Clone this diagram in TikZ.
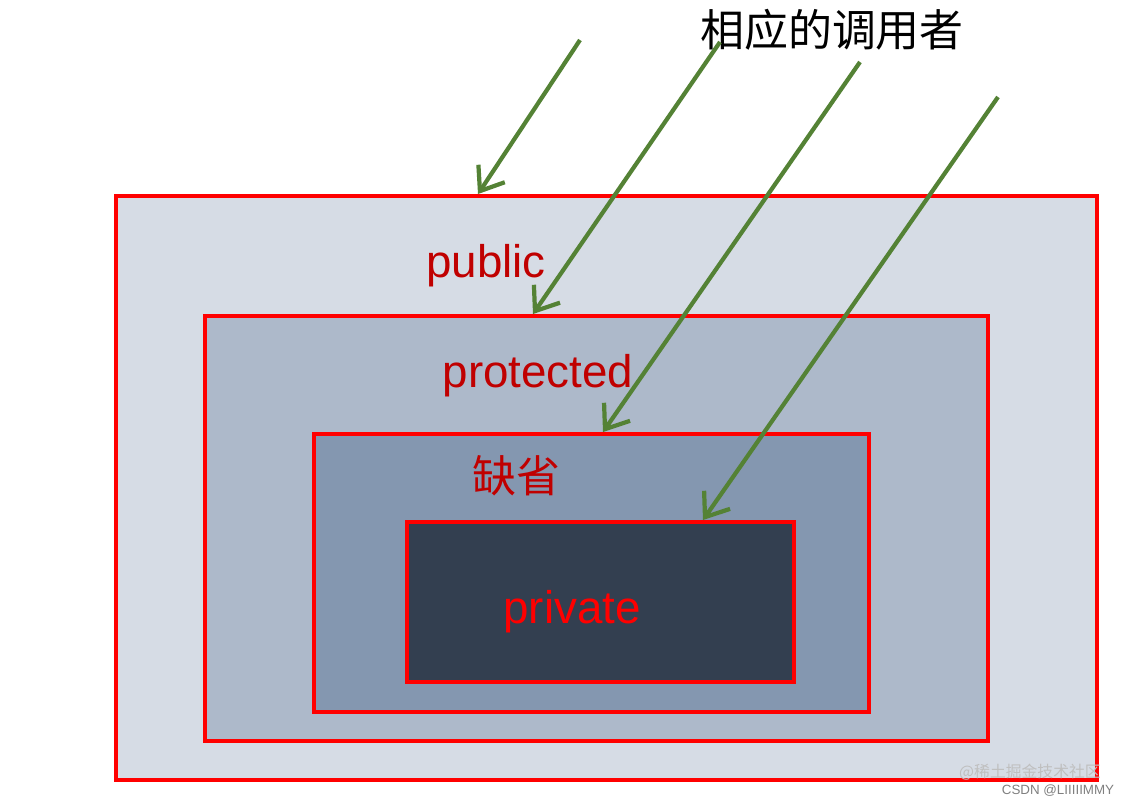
\documentclass[tikz,border=0pt]{standalone}
\usepackage{fontspec}
\usetikzlibrary{arrows.meta}
\setmainfont{Liberation Sans}
\newfontfamily\cjk{Noto Sans CJK SC}
\begin{document}
\begin{tikzpicture}[x=0.01cm,y=-0.01cm]
\useasboundingbox[fill=white] (0,0) rectangle (1133,805);
\definecolor{lv1}{HTML}{D6DCE5}
\definecolor{lv2}{HTML}{ADB9CA}
\definecolor{lv3}{HTML}{8497B0}
\definecolor{lv4}{HTML}{333F50}
\definecolor{dred}{HTML}{C00000}
\definecolor{grn}{HTML}{548235}
\tikzset{box/.style={draw=red,line width=1.4pt},
  lbl/.style={font=\fontsize{13}{15}\selectfont},
  arr/.style={draw=grn,line width=1.2pt,-{Straight Barb[length=6pt,width=9pt]}}}
\draw[box,fill=lv1] (116,196) rectangle (1097,780);
\draw[box,fill=lv2] (205,316) rectangle (988,741);
\draw[box,fill=lv3] (314,434) rectangle (869,712);
\draw[box,fill=lv4] (407,522) rectangle (794,682);
\coordinate (b1) at (478,194);
\coordinate (b2) at (533,314);
\coordinate (b3) at (603,432);
\coordinate (b4) at (703,520);
\node[lbl,text=dred] (pub) at (486,266) {public};
\node[lbl,text=dred] (pro) at (538,376) {protected};
\node[lbl,text=dred,font=\cjk\fontsize{12.5}{15}\selectfont] (def) at (516,476) {缺省};
\node[lbl,text=red] (pri) at (572,612) {private};
\node[font=\cjk\fontsize{12.5}{15}\selectfont] (caller) at (832,30) {相应的调用者};
\coordinate (s1) at (580,40);
\coordinate (s2) at (720,42);
\coordinate (s3) at (860,62);
\coordinate (s4) at (998,97);
\draw[arr] (s1) -- (b1);
\draw[arr] (s2) -- (b2);
\draw[arr] (s3) -- (b3);
\draw[arr] (s4) -- (b4);
\node[font=\cjk\fontsize{4.5}{5}\selectfont,text=gray!50] (wm1) at (1030,772) {@稀土掘金技术社区};
\node[font=\fontsize{3.8}{4}\selectfont,text=gray] (wm2) at (1058,791) {CSDN @LIIIIIMMY};
\end{tikzpicture}
\end{document}
